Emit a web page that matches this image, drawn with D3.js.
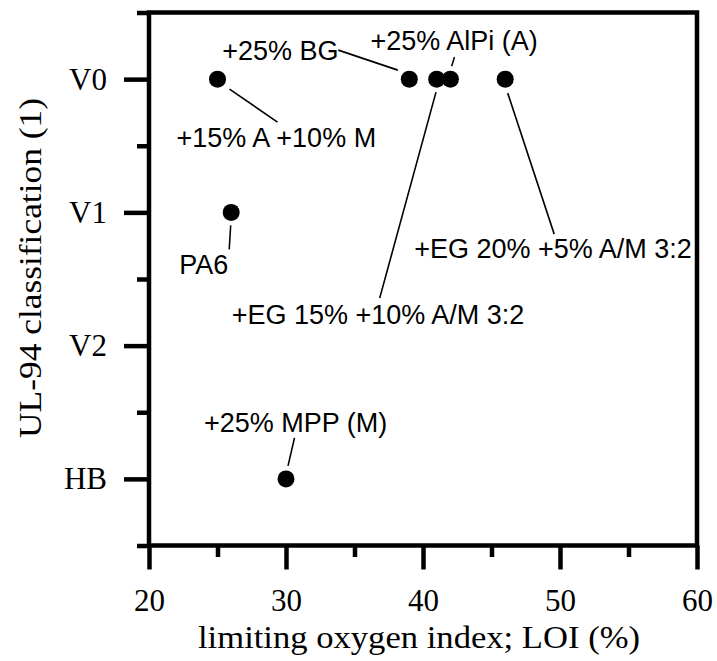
<!DOCTYPE html>
<html lang="en">
<head>
<meta charset="utf-8">
<title>UL-94 vs LOI</title>
<style>
    body { margin: 0; background: #fff; }
    .tick text { font-family: "Liberation Serif", serif; font-size: 31px; fill: #000; }
    .axis-title { font-family: "Liberation Serif", serif; font-size: 32px; fill: #000; }
    .note { font-family: "Liberation Sans", Arial, sans-serif; font-size: 27px; fill: #000; }
</style>
</head>
<body>
<svg id="chart" width="717" height="661"></svg>
<script src="https://cdn.jsdelivr.net/npm/d3@7"></script>
<script>
    // data
    var classes = ["HB", "V2", "V1", "V0"];
    var samples = ["PA6", "+25% MPP (M)", "+25% AlPi (A)", "+25% BG", "+15% A +10% M",
                   "+EG 15% +10% A/M 3:2", "+EG 20% +5% A/M 3:2"];
    var loi = [26, 30, 42, 39, 25, 41, 46];
    var rating = ["V1", "HB", "V0", "V0", "V0", "V0", "V0"];
    var xTicks = [20, 30, 40, 50, 60];
    var xMinor = [25, 35, 45, 55];

    // label placement, px offsets from the dot: [label dx, label dy, line x1, y1, x2, y2]
    var notePos = [
        [-52, 62, -0.5, 13, -2, 37],
        [-82, -47, 8.5, -41, 2, -13],
        [-80, -29, 4, -22, 1.3, -13],
        [-187, -19, -71, -29, -11.5, -9],
        [-41, 68, 12, 10, 60, 43],
        [-205, 245, -0.7, 13, -57, 219],
        [-91, 179, 2.5, 14, 49, 155]
    ];

    var plotL = 149, plotR = 697, plotT = 12.5, plotB = 545.5;
    var svg = d3.select("#chart");

    var x = d3.scaleLinear().domain([20, 60]).range([plotL, plotR]);
    var y = d3.scaleLinear().domain([-0.5, 3.5]).range([plotB, plotT]);

    function styleAxis(g) {
        g.select(".domain").remove();
        g.selectAll(".tick line").attr("stroke", "#000").attr("stroke-width", 4.5);
    }

    // minor ticks
    svg.append("g").attr("transform", "translate(" + plotL + ",0)")
        .call(d3.axisLeft(y).tickValues([-0.5, 0.5, 1.5, 2.5, 3.5]).tickSize(12).tickFormat(""))
        .call(styleAxis);
    svg.append("g").attr("transform", "translate(0," + plotB + ")")
        .call(d3.axisBottom(x).tickValues(xMinor).tickSize(11.5).tickFormat(""))
        .call(styleAxis);

    // major ticks with labels
    svg.append("g").attr("transform", "translate(" + plotL + ",0)")
        .call(d3.axisLeft(y).tickValues([0, 1, 2, 3]).tickSize(25).tickPadding(17)
            .tickFormat(function(d) { return classes[d]; }))
        .call(styleAxis);
    svg.append("g").attr("transform", "translate(0," + plotB + ")")
        .call(d3.axisBottom(x).tickValues(xTicks).tickSize(24).tickPadding(19))
        .call(styleAxis);

    // frame
    svg.append("rect")
        .attr("x", plotL).attr("y", plotT)
        .attr("width", plotR - plotL).attr("height", plotB - plotT)
        .attr("fill", "none").attr("stroke", "#000").attr("stroke-width", 4.5);

    // titles
    svg.append("text").attr("class", "axis-title")
        .attr("x", 419).attr("y", 648)
        .attr("text-anchor", "middle")
        .attr("textLength", 442).attr("lengthAdjust", "spacingAndGlyphs")
        .text("limiting oxygen index; LOI (%)");
    svg.append("text").attr("class", "axis-title")
        .attr("transform", "translate(41,268) rotate(-90)")
        .attr("text-anchor", "middle")
        .attr("textLength", 340).attr("lengthAdjust", "spacingAndGlyphs")
        .text("UL-94 classification (1)");

    // points, leaders, labels
    var rows = samples.map(function(s, i) {
        return { name: s, loi: loi[i], cls: classes.indexOf(rating[i]), pos: notePos[i] };
    });

    var g = svg.append("g");
    g.selectAll("line.leader").data(rows).enter().append("line")
        .attr("class", "leader")
        .attr("x1", d => x(d.loi) + d.pos[2]).attr("y1", d => y(d.cls) + d.pos[3])
        .attr("x2", d => x(d.loi) + d.pos[4]).attr("y2", d => y(d.cls) + d.pos[5])
        .attr("stroke", "#000").attr("stroke-width", 1.6);
    g.selectAll("circle").data(rows).enter().append("circle")
        .attr("cx", d => x(d.loi)).attr("cy", d => y(d.cls))
        .attr("r", 8.5).attr("fill", "#000");
    g.selectAll("text.note").data(rows).enter().append("text")
        .attr("class", "note")
        .attr("x", d => x(d.loi) + d.pos[0]).attr("y", d => y(d.cls) + d.pos[1])
        .text(d => d.name);
</script>
</body>
</html>
